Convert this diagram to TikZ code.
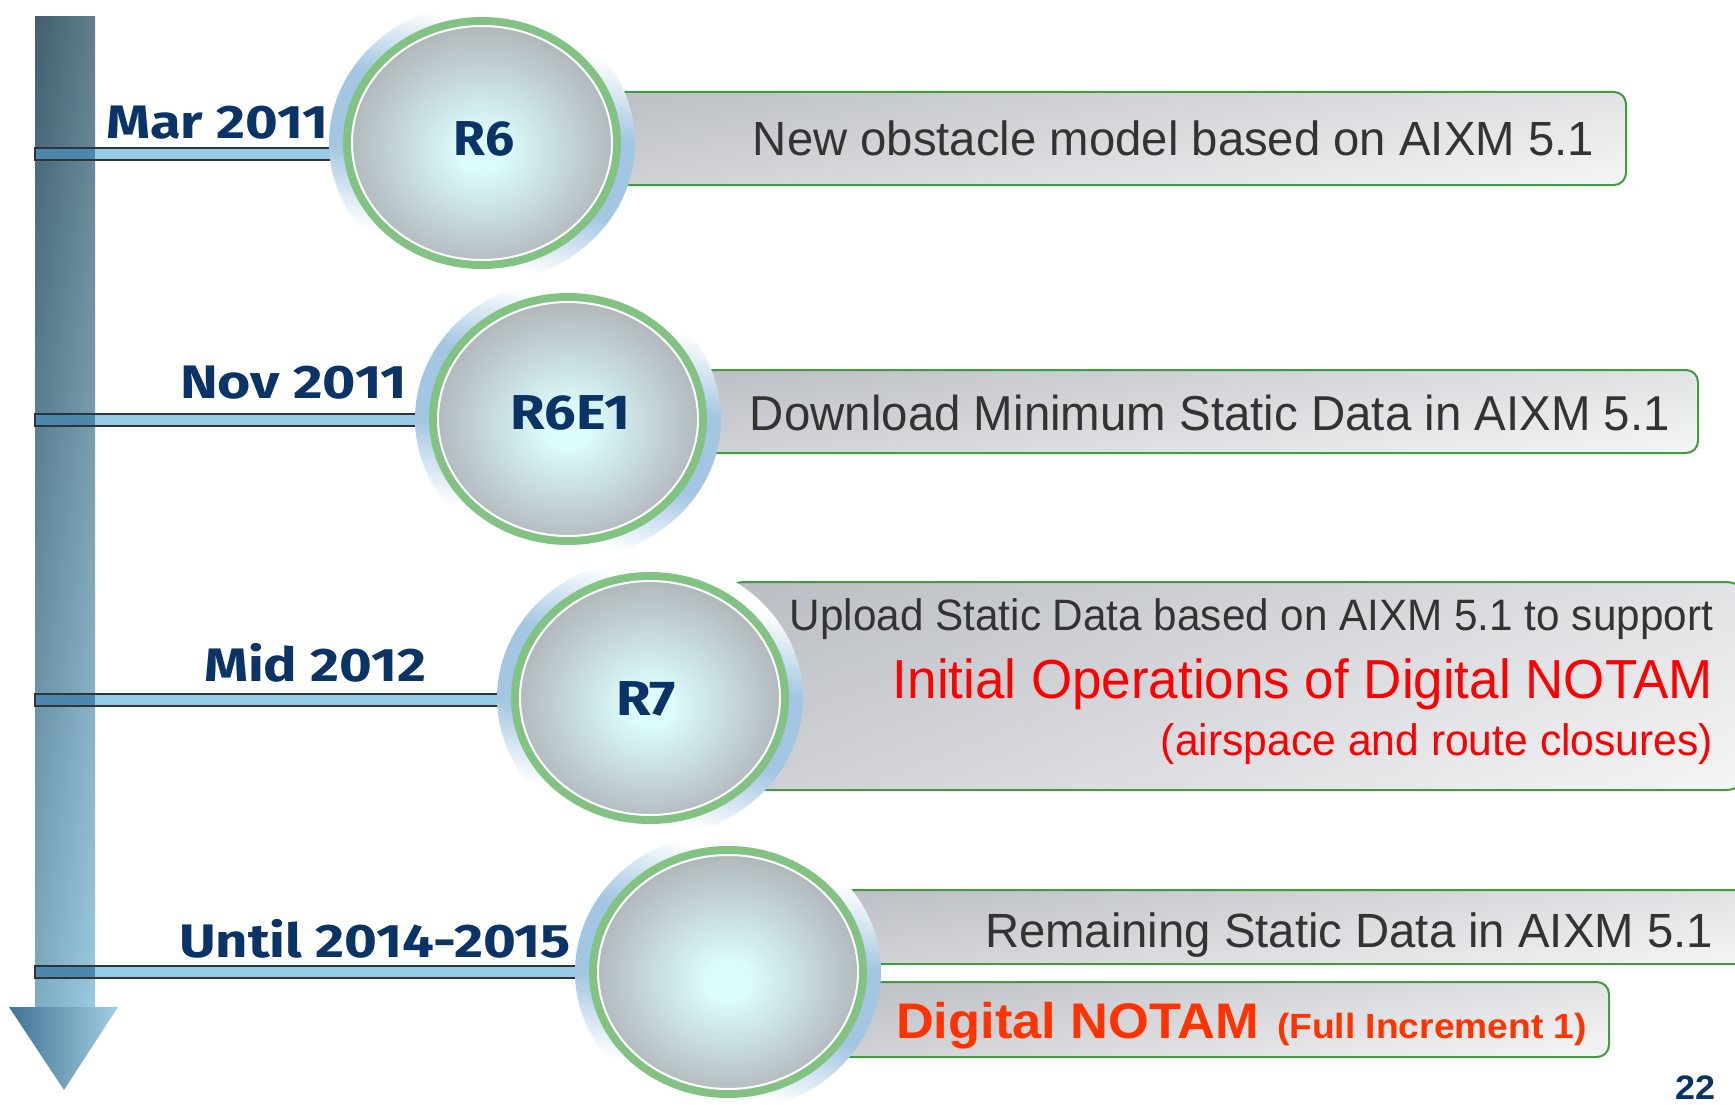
\documentclass[tikz,border=0pt]{standalone}
\usepackage{fontspec}
\setmainfont{Liberation Sans}
\newfontfamily\datefont{Fira Sans}
\usepackage{graphicx}
\definecolor{navy}{HTML}{0A3366}
\definecolor{txtgray}{HTML}{333333}
\definecolor{notamred}{HTML}{FF0000}
\definecolor{notamorange}{HTML}{FF3300}
\definecolor{boxgreen}{HTML}{3E9E3E}
\definecolor{ringgreen}{HTML}{82C282}
\definecolor{haloblue}{HTML}{A3C6E2}
\definecolor{orbin}{HTML}{DCFCFC}
\definecolor{orbout}{HTML}{B2B9BD}
\definecolor{bartop}{HTML}{4B6D7F}
\definecolor{barbot}{HTML}{8EC3DC}
\definecolor{linefill}{HTML}{96CCE6}
\definecolor{linedark}{HTML}{4A88AE}
\definecolor{lineedge}{HTML}{333333}
\definecolor{boxtop}{HTML}{C4C7CC}
\definecolor{boxbot}{HTML}{ECECEE}
\definecolor{boxleft}{HTML}{B0B4BB}
\pgfdeclareradialshading{orbshade}{\pgfpoint{0bp}{-2bp}}{color(0bp)=(orbin); color(4bp)=(orbin); color(25bp)=(orbout); color(50bp)=(orbout)}
\pgfdeclareverticalshading{haloshade}{100bp}{color(0bp)=(white); color(30bp)=(white); color(43bp)=(haloblue); color(57bp)=(haloblue); color(70bp)=(white); color(100bp)=(white)}
\newcommand\fitto[2]{\resizebox{#1}{\height}{#2}}
\newcommand\infobox[5]{%
  \shade[top color=boxtop, bottom color=boxbot, rounded corners=#5] (#1,#2) rectangle (#3,#4);
  \shade[left color=boxleft, right color=white, opacity=0.5, rounded corners=#5] (#1,#2) rectangle (#3,#4);
  \draw[draw=boxgreen, line width=2pt, rounded corners=#5] (#1,#2) rectangle (#3,#4);}
\newcommand\orb[2]{%
  \shade[shading=haloshade, shading angle=-15] (#1,#2) ellipse [x radius=153, y radius=140];
  \shade[shading=orbshade] (#1,#2) ellipse [x radius=132, y radius=119];
  \draw[ringgreen, line width=8pt] (#1,#2) ellipse [x radius=135, y radius=122];
  \draw[white, line width=2pt] (#1,#2) ellipse [x radius=130, y radius=117];}
\newcommand\tline[2]{% y, x end
  \fill[linefill] (35,#1-6) rectangle (#2,#1+6);
  \fill[linedark] (35,#1-6) rectangle (95,#1+6);
  \draw[lineedge, line width=1.5pt] (#2,#1-6) -- (35,#1-6) -- (35,#1+6) -- (#2,#1+6);}
\begin{document}
\begin{tikzpicture}[x=1pt,y=-1pt,
  lbl/.style={inner sep=0pt, outer sep=0pt}]
\useasboundingbox (0,0) rectangle (1735,1105);
\begin{scope}
\clip (0,0) rectangle (1735,1105);
% timeline bar
\shade[top color=bartop, bottom color=barbot] (35,17) rectangle (95,1007);
\shade[left color=black, right color=white, opacity=0.12] (35,17) rectangle (95,1007);
\shade[left color=linedark!85!black, right color=barbot!80!white] (9,1007) -- (118,1007) -- (64,1090) -- cycle;
\coordinate (c1) at (482,143);
\coordinate (c2) at (568,419);
\coordinate (c3) at (650,698);
\coordinate (c4) at (728,972);
% connector lines
\tline{154}{482}
\tline{420}{568}
\tline{700}{650}
\tline{972}{728}
% info boxes
\infobox{560}{92}{1626}{185}{12}
\infobox{640}{370}{1698}{453}{12}
\infobox{720}{582}{1750}{790}{24}
\infobox{790}{890}{1750}{964}{12}
\infobox{790}{982}{1609}{1057}{12}
% orbs
\orb{482}{143}
\orb{568}{419}
\orb{650}{698}
\orb{728}{972}
\end{scope}
% dates
\node[lbl, anchor=base west, text=navy] (d1) at (106,139) {\fitto{222pt}{\datefont\bfseries\fontsize{47}{47}\selectfont Mar 2011}};
\node[lbl, anchor=base west, text=navy] (d2) at (180,398) {\fitto{227pt}{\datefont\bfseries\fontsize{47}{47}\selectfont Nov 2011}};
\node[lbl, anchor=base west, text=navy] (d3) at (204,681) {\fitto{222pt}{\datefont\bfseries\fontsize{47}{47}\selectfont Mid 2012}};
\node[lbl, anchor=base west, text=navy] (d4) at (179,957) {\fitto{392pt}{\datefont\bfseries\fontsize{47}{47}\selectfont Until 2014-2015}};
% orb labels
\node[lbl, anchor=base, text=navy] (r6) at (484,156) {\fitto{61pt}{\datefont\bfseries\fontsize{49}{49}\selectfont R6}};
\node[lbl, anchor=base, text=navy] (r6e1) at (570,429) {\fitto{120pt}{\datefont\bfseries\fontsize{49}{49}\selectfont R6E1}};
\node[lbl, anchor=base, text=navy] (r7) at (646,715) {\fitto{60pt}{\datefont\bfseries\fontsize{49}{49}\selectfont R7}};
% box texts
\node[lbl, anchor=base east, text=txtgray] (t1) at (1594,156) {\fitto{841pt}{\fontsize{48}{48}\selectfont New obstacle model based on AIXM 5.1}};
\node[lbl, anchor=base east, text=txtgray] (t2) at (1670,430) {\fitto{920pt}{\fontsize{49}{49}\selectfont Download Minimum Static Data in AIXM 5.1}};
\node[lbl, anchor=base east, text=txtgray] (t3a) at (1713,630) {\fitto{923pt}{\fontsize{44}{44}\selectfont Upload Static Data based on AIXM 5.1 to support}};
\node[lbl, anchor=base east, text=notamred] (t3b) at (1713,698) {\fitto{820pt}{\fontsize{55}{55}\selectfont Initial Operations of Digital NOTAM}};
\node[lbl, anchor=base east, text=notamred] (t3c) at (1713,755) {\fitto{552pt}{\fontsize{44}{44}\selectfont (airspace and route closures)}};
\node[lbl, anchor=base east, text=txtgray] (t4a) at (1713,947) {\fitto{728pt}{\fontsize{48}{48}\selectfont Remaining Static Data in AIXM 5.1}};
\node[lbl, anchor=base west, text=notamorange] (t4b) at (896,1038) {\fitto{363pt}{\bfseries\fontsize{50}{50}\selectfont Digital NOTAM}};
\node[lbl, anchor=base west, text=notamorange] (t4c) at (1277,1038) {\fitto{310pt}{\bfseries\fontsize{35}{35}\selectfont (Full Increment 1)}};
\node[lbl, anchor=base east, text=navy] (pg) at (1715,1099) {\fitto{40pt}{\bfseries\fontsize{34}{34}\selectfont 22}};
\end{tikzpicture}
\end{document}
